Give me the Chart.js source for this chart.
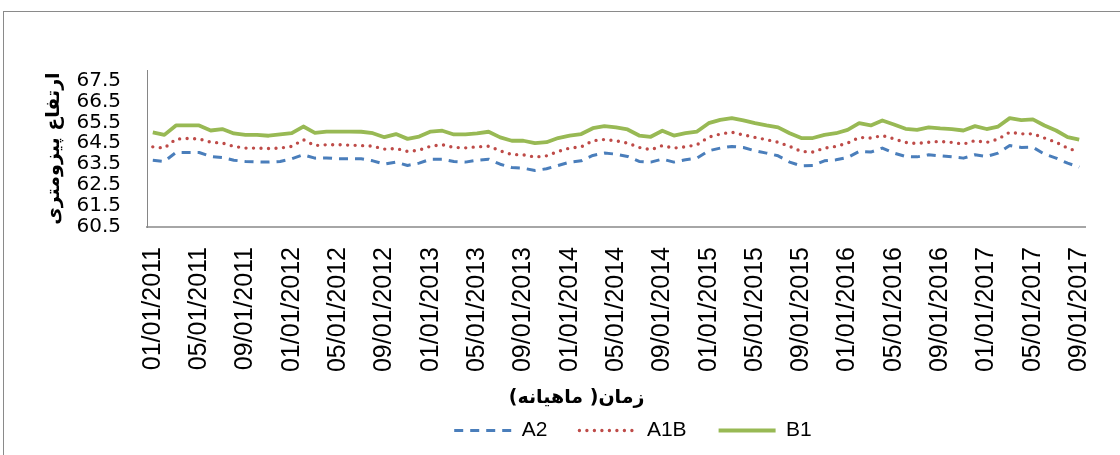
<!DOCTYPE html>
<html>
<head>
<meta charset="utf-8">
<script src="https://cdn.jsdelivr.net/npm/chart.js@4/dist/chart.umd.min.js"></script>
<style>
  html, body { margin: 0; padding: 0; width: 1120px; height: 455px; overflow: hidden; background: #fff; }
  #frame { position: absolute; left: 3px; top: 11px; width: 1200px; height: 500px; border: 1px solid #8a8a8a; box-sizing: border-box; }
  #c { position: absolute; left: 0; top: 0; }
</style>
</head>
<body>
<div id="frame"></div>
<canvas id="c" width="1266" height="455"></canvas>
<script>
// Monthly categories, Jan 2011 – Sep 2017
const months = [
  '01/01/2011','02/01/2011','03/01/2011','04/01/2011','05/01/2011','06/01/2011','07/01/2011','08/01/2011','09/01/2011','10/01/2011','11/01/2011','12/01/2011',
  '01/01/2012','02/01/2012','03/01/2012','04/01/2012','05/01/2012','06/01/2012','07/01/2012','08/01/2012','09/01/2012','10/01/2012','11/01/2012','12/01/2012',
  '01/01/2013','02/01/2013','03/01/2013','04/01/2013','05/01/2013','06/01/2013','07/01/2013','08/01/2013','09/01/2013','10/01/2013','11/01/2013','12/01/2013',
  '01/01/2014','02/01/2014','03/01/2014','04/01/2014','05/01/2014','06/01/2014','07/01/2014','08/01/2014','09/01/2014','10/01/2014','11/01/2014','12/01/2014',
  '01/01/2015','02/01/2015','03/01/2015','04/01/2015','05/01/2015','06/01/2015','07/01/2015','08/01/2015','09/01/2015','10/01/2015','11/01/2015','12/01/2015',
  '01/01/2016','02/01/2016','03/01/2016','04/01/2016','05/01/2016','06/01/2016','07/01/2016','08/01/2016','09/01/2016','10/01/2016','11/01/2016','12/01/2016',
  '01/01/2017','02/01/2017','03/01/2017','04/01/2017','05/01/2017','06/01/2017','07/01/2017','08/01/2017','09/01/2017'
];

// Piezometric level per scenario (m)
const seriesA2 = [
  63.69, 63.63, 64.06, 64.06, 64.06, 63.87, 63.82, 63.69, 63.63, 63.61, 63.60, 63.63,
  63.76, 63.95, 63.79, 63.80, 63.76, 63.76, 63.76, 63.66, 63.50, 63.60, 63.44, 63.55,
  63.74, 63.74, 63.63, 63.60, 63.69, 63.74, 63.50, 63.34, 63.31, 63.20, 63.28, 63.44,
  63.60, 63.66, 63.92, 64.03, 63.98, 63.87, 63.63, 63.60, 63.74, 63.60, 63.71, 63.79,
  64.14, 64.27, 64.35, 64.30, 64.14, 64.03, 63.90, 63.60, 63.42, 63.44, 63.66, 63.71,
  63.82, 64.11, 64.08, 64.27, 64.03, 63.87, 63.85, 63.95, 63.90, 63.85, 63.79, 63.95,
  63.87, 64.03, 64.39, 64.30, 64.31, 63.98, 63.79, 63.55, 63.36
];
const seriesA1B = [
  64.33, 64.27, 64.70, 64.73, 64.71, 64.55, 64.51, 64.35, 64.27, 64.27, 64.25, 64.27,
  64.35, 64.67, 64.39, 64.43, 64.43, 64.41, 64.39, 64.36, 64.22, 64.25, 64.11, 64.17,
  64.36, 64.43, 64.30, 64.28, 64.33, 64.36, 64.14, 63.96, 63.95, 63.84, 63.90, 64.11,
  64.27, 64.33, 64.62, 64.68, 64.62, 64.51, 64.30, 64.19, 64.39, 64.27, 64.33, 64.43,
  64.79, 64.94, 65.03, 64.90, 64.78, 64.67, 64.55, 64.35, 64.11, 64.08, 64.27, 64.35,
  64.51, 64.78, 64.75, 64.87, 64.71, 64.54, 64.49, 64.55, 64.59, 64.54, 64.46, 64.63,
  64.54, 64.70, 65.03, 64.95, 64.95, 64.75, 64.55, 64.27, 64.08
];
const seriesB1 = [
  65.02, 64.90, 65.35, 65.35, 65.35, 65.11, 65.18, 64.97, 64.90, 64.90, 64.86, 64.92,
  64.98, 65.30, 65.00, 65.06, 65.06, 65.06, 65.05, 64.98, 64.79, 64.94, 64.71, 64.82,
  65.06, 65.10, 64.92, 64.92, 64.97, 65.05, 64.78, 64.62, 64.62, 64.51, 64.55, 64.75,
  64.87, 64.94, 65.22, 65.32, 65.26, 65.16, 64.87, 64.81, 65.10, 64.87, 64.98, 65.06,
  65.46, 65.62, 65.70, 65.59, 65.46, 65.35, 65.26, 64.98, 64.75, 64.75, 64.90, 64.98,
  65.14, 65.46, 65.35, 65.59, 65.40, 65.19, 65.14, 65.26, 65.21, 65.18, 65.11, 65.32,
  65.18, 65.30, 65.70, 65.61, 65.64, 65.35, 65.11, 64.79, 64.67
];

const yTicks = [60.5, 61.5, 62.5, 63.5, 64.5, 65.5, 66.5, 67.5];
const labelEvery = 4;
const yAxisTitle = 'ارتفاع پیزومتری';
const xAxisTitle = 'زمان( ماهیانه)';

// Line patterns for each scenario
const dashA2 = [9, 7];
const dotsA1B = [0, 7.5];

// Draws the right-to-left category-axis caption under the date labels
const axisCaption = {
  id: 'axisCaption',
  afterDraw(chart, args, opts) {
    const xs = chart.scales.x;
    const ctx = chart.ctx;
    ctx.save();
    ctx.font = opts.font;
    ctx.fillStyle = opts.color;
    ctx.direction = 'rtl';
    ctx.textAlign = 'center';
    ctx.textBaseline = 'middle';
    ctx.fillText(opts.text, xs.left + (xs.right - xs.left) * opts.position, xs.bottom + opts.offset);
    ctx.restore();
  }
};

// Legend swatches take the line pattern of their dataset
function legendLabels(chart) {
  return Chart.defaults.plugins.legend.labels.generateLabels(chart).map(item => {
    const ds = chart.data.datasets[item.datasetIndex];
    return Object.assign(item, {
      pointStyle: 'line',
      strokeStyle: ds.borderColor,
      fillStyle: ds.borderColor,
      lineWidth: ds.borderWidth,
      lineDash: ds.borderDash || [],
      lineCap: ds.borderCapStyle || 'butt'
    });
  });
}

new Chart(document.getElementById('c'), {
  type: 'line',
  data: {
    labels: months,
    datasets: [
      { label: 'A2', data: seriesA2, borderColor: '#4a7ebb', backgroundColor: '#4a7ebb',
        borderWidth: 3, borderDash: dashA2, borderCapStyle: 'butt', borderJoinStyle: 'round',
        segment: { borderDash: () => dashA2 },
        pointRadius: 0, pointStyle: 'line', tension: 0 },
      { label: 'A1B', data: seriesA1B, borderColor: '#be4b48', backgroundColor: '#be4b48',
        borderWidth: 3.4, borderDash: dotsA1B, borderCapStyle: 'round',
        segment: { borderDash: () => dotsA1B },
        pointRadius: 0, pointStyle: 'line', tension: 0 },
      { label: 'B1', data: seriesB1, borderColor: '#98b954', backgroundColor: '#98b954',
        borderWidth: 3.8, borderJoinStyle: 'round',
        pointRadius: 0, pointStyle: 'line', tension: 0 }
    ]
  },
  options: {
    responsive: false,
    animation: false,
    devicePixelRatio: 1,
    layout: { padding: { left: 0, right: 0, top: 70, bottom: 4 } },
    plugins: {
      legend: {
        position: 'bottom',
        labels: {
          usePointStyle: true,
          pointStyleWidth: 57,
          padding: 32,
          color: '#000',
          font: { family: '"Liberation Sans", Arial, sans-serif', size: 21 },
          generateLabels: legendLabels
        }
      },
      tooltip: { enabled: false },
      axisCaption: {
        text: xAxisTitle,
        font: 'bold 19px "DejaVu Sans"',
        color: '#000',
        position: 0.458,
        offset: 10
      }
    },
    scales: {
      x: {
        type: 'category',
        offset: true,
        grid: { display: false, drawTicks: false },
        border: { display: true, color: '#a6a6a6', width: 2 },
        ticks: {
          autoSkip: false,
          minRotation: 90,
          maxRotation: 90,
          padding: 20,
          color: '#000',
          font: { family: '"Liberation Sans", Arial, sans-serif', size: 25 },
          callback: (v, i) => (i % labelEvery === 0 ? months[i] : '')
        },
        afterFit: s => { s.height = 161; }
      },
      y: {
        min: 60.5,
        max: 68,
        grid: { display: false, drawTicks: false },
        border: { display: true, color: '#868686', width: 1 },
        afterBuildTicks: s => { s.ticks = yTicks.map(v => ({ value: v })); },
        ticks: {
          autoSkip: false,
          padding: 26,
          color: '#000',
          font: { family: '"DejaVu Sans", sans-serif', size: 20 },
          callback: v => Number(v).toFixed(1)
        },
        title: {
          display: true,
          text: yAxisTitle,
          color: '#000',
          font: { family: '"DejaVu Sans", sans-serif', size: 19, weight: 'bold' },
          padding: { top: 43, bottom: 0 }
        },
        afterFit: s => { s.width = 147; }
      },
      yPad: {
        position: 'right',
        display: true,
        grid: { display: false, drawTicks: false },
        border: { display: false },
        ticks: { display: false },
        afterFit: s => { s.width = 181; }
      }
    }
  },
  plugins: [axisCaption]
});
</script>
</body>
</html>
